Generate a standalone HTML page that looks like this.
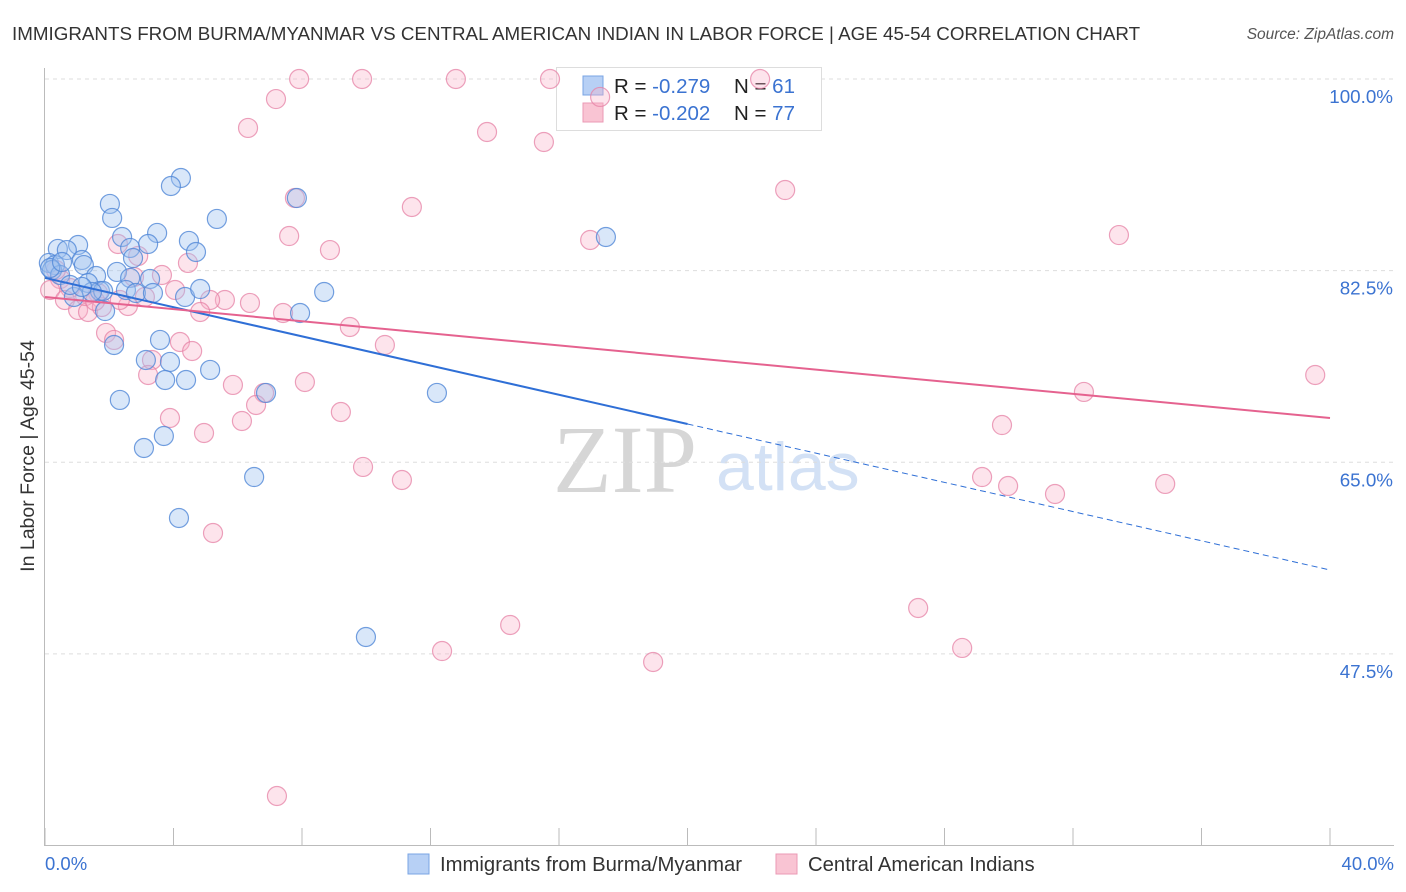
<!DOCTYPE html>
<html><head><meta charset="utf-8"><style>
body{margin:0;background:#fff;font-family:"Liberation Sans",sans-serif;}
#wrap{position:relative;width:1406px;height:892px;overflow:hidden;}
svg{position:absolute;left:0;top:0;}
</style></head><body>
<div id="wrap">
<svg id="c" width="1406" height="892">
<text x="12" y="40" font-size="18.8" fill="#333">IMMIGRANTS FROM BURMA/MYANMAR VS CENTRAL AMERICAN INDIAN IN LABOR FORCE | AGE 45-54 CORRELATION CHART</text>
<text x="1394" y="39" font-size="15.5" fill="#555" font-style="italic" text-anchor="end">Source: ZipAtlas.com</text>
<text x="553" y="492" font-size="96" fill="#d6d6d6" font-family="Liberation Serif,serif">ZIP</text>
<text x="716" y="490" font-size="68" fill="#d3e1f5">atlas</text>
<text transform="translate(34,456) rotate(-90)" font-size="19.5" fill="#333" text-anchor="middle">In Labor Force | Age 45-54</text>
<g id="grid"></g><g id="axes"></g>
<g>
<rect x="556.5" y="67.5" width="265" height="63" fill="#fff" stroke="#ddd"/>
<rect x="583" y="76" width="20" height="19" fill="#b7d0f5" stroke="#7aa4e4"/>
<rect x="583" y="103" width="20" height="19" fill="#f9c4d3" stroke="#eb9ab4"/>
<text x="614" y="93" font-size="20.5" fill="#222">R = <tspan fill="#3b73d1">-0.279</tspan></text>
<text x="734" y="93" font-size="20.5" fill="#222">N = <tspan fill="#3b73d1">61</tspan></text>
<text x="614" y="120" font-size="20.5" fill="#222">R = <tspan fill="#3b73d1">-0.202</tspan></text>
<text x="734" y="120" font-size="20.5" fill="#222">N = <tspan fill="#3b73d1">77</tspan></text>
</g>
<g id="pts"></g><g id="lines"></g>
<g>
<rect x="408" y="854" width="21" height="20" fill="#b7d0f5" stroke="#7aa4e4"/>
<text x="440" y="871" font-size="20.3" fill="#333">Immigrants from Burma/Myanmar</text>
<rect x="776" y="854" width="21" height="20" fill="#f9c4d3" stroke="#eb9ab4"/>
<text x="808" y="871" font-size="20.3" fill="#333">Central American Indians</text>
</g>
</svg>
</div>
<script>
const blueX=[4.23,3.92,2.02,2.09,5.35,3.49,2.40,4.48,3.21,1.03,0.40,0.68,4.70,2.65,2.74,1.15,0.12,0.31,1.21,0.22,2.24,1.59,2.65,3.27,0.47,1.34,1.71,0.90,2.52,2.83,3.36,4.36,4.83,1.81,8.69,7.94,1.87,17.46,7.84,3.58,2.15,3.14,3.89,5.14,4.39,3.74,6.88,12.20,2.33,3.70,3.08,6.51,4.17,9.99,0.16,0.78,1.46,1.15,0.53];
const blueY=[90.96,90.23,88.59,87.31,87.22,85.94,85.57,85.21,84.93,84.84,84.48,84.38,84.20,84.57,83.65,83.47,83.20,83.01,83.01,82.56,82.38,82.01,81.83,81.74,82.10,81.37,80.64,80.09,80.73,80.46,80.46,80.09,80.82,80.64,80.55,78.63,78.81,85.57,89.13,76.17,75.71,74.34,74.16,73.43,72.51,72.51,71.33,71.33,70.69,67.40,66.30,63.65,59.91,49.04,82.74,81.19,80.55,81.01,83.29];
const pinkX=[7.91,9.87,12.79,15.72,22.26,7.19,17.28,6.32,13.76,15.53,23.04,7.78,11.42,7.60,16.97,33.43,8.87,2.27,2.90,4.45,3.64,2.77,4.05,0.47,0.78,0.16,0.62,1.03,1.34,1.77,2.58,5.60,5.14,6.38,4.83,7.41,9.49,1.90,2.15,4.20,4.58,10.58,3.33,3.21,5.85,8.09,6.82,6.57,3.89,9.21,6.13,4.95,9.90,11.11,29.17,29.98,31.44,34.87,29.79,32.34,39.54,5.23,27.18,14.48,12.36,18.93,28.55,7.22,1.65,1.25,2.33,0.34,3.11,1.56];
const pinkY=[100,100,100,100,100,98.17,98.36,95.53,95.16,94.25,89.86,89.13,88.31,85.66,85.30,85.75,84.38,84.93,83.84,83.20,82.10,81.92,80.73,81.74,80.91,80.73,79.82,78.91,78.72,79.18,79.27,79.82,79.82,79.55,78.72,78.63,77.35,76.81,76.17,75.98,75.16,75.71,74.34,72.97,72.06,72.33,71.33,70.23,69.04,69.59,68.77,67.67,64.57,63.38,63.65,62.83,62.10,63.02,68.40,71.42,72.97,58.54,51.69,50.14,47.76,46.76,48.04,34.52,80.46,80.18,79.82,82.56,80.09,79.73];
const yTicks=[100,82.5,65,47.5];
const yTickLabels=["100.0%","82.5%","65.0%","47.5%"];
const xTickVals=[0,4,8,12,16,20,24,28,32,36,40];
const xEndLabels=["0.0%","40.0%"];
const blueTrend=[81.83,55.16];
const pinkTrend=[80.09,69.04];
const blueSolidEnd=20;

const NS="http://www.w3.org/2000/svg";
const X=v=>45+v/40*1285;
const Y=v=>79+(100-v)/100*1095;
function mk(tag,attrs,parent){const e=document.createElementNS(NS,tag);for(const k in attrs)e.setAttribute(k,attrs[k]);parent.appendChild(e);return e;}
const grid=document.getElementById('grid'),axes=document.getElementById('axes'),pts=document.getElementById('pts'),lines=document.getElementById('lines');
yTicks.forEach((t,i)=>{
 const l=mk('line',{x1:45,x2:1394,y1:Y(t),y2:Y(t),stroke:'#ddd','stroke-dasharray':'4,4'},grid);
 
 
 const tx=mk('text',{x:1393,y:Y(t)+24,'font-size':18.8,fill:'#3b73d1','text-anchor':'end'},axes);
 tx.textContent=yTickLabels[i];
 
 
});
const ya=mk('line',{x1:44.5,x2:44.5,y1:68,y2:845,stroke:'#bbb'},axes);


const xa=mk('line',{x1:44,x2:1394,y1:845.5,y2:845.5,stroke:'#bbb'},axes);


xTickVals.forEach(v=>{
 const t=mk('line',{x1:X(v),x2:X(v),y1:828,y2:845,stroke:'#bbb'},axes);
 
 
});
[[0,'start',45],[40,'end',1394]].forEach((a,i)=>{
 const t=mk('text',{x:a[2],y:870,'font-size':18.5,fill:'#3b73d1','text-anchor':a[1]},axes);
 t.textContent=xEndLabels[i];
 
 
});
function drawPts(xs,ys,fill,stroke,name){xs.forEach((x,i)=>{
 const c=mk('circle',{cx:X(x),cy:Y(ys[i]),r:9.5,fill:fill,stroke:stroke,'stroke-width':1.2},pts);
 
 
});}
drawPts(pinkX,pinkY,'rgba(248,178,200,0.35)','rgba(230,130,165,0.75)','point-central-american-indian');
drawPts(blueX,blueY,'rgba(160,195,240,0.4)','rgba(80,135,215,0.8)','point-burma-myanmar');
const by=x=>blueTrend[0]+(blueTrend[1]-blueTrend[0])*x/40;
const b1=mk('line',{x1:X(0),y1:Y(by(0)),x2:X(blueSolidEnd),y2:Y(by(blueSolidEnd)),stroke:'#2f6fd6','stroke-width':2},lines);


const b2=mk('line',{x1:X(blueSolidEnd),y1:Y(by(blueSolidEnd)),x2:X(40),y2:Y(by(40)),stroke:'#2f6fd6','stroke-width':1,'stroke-dasharray':'6,4'},lines);


const p1=mk('line',{x1:X(0),y1:Y(pinkTrend[0]),x2:X(40),y2:Y(pinkTrend[1]),stroke:'#e5628f','stroke-width':2},lines);


</script>
</body></html>
